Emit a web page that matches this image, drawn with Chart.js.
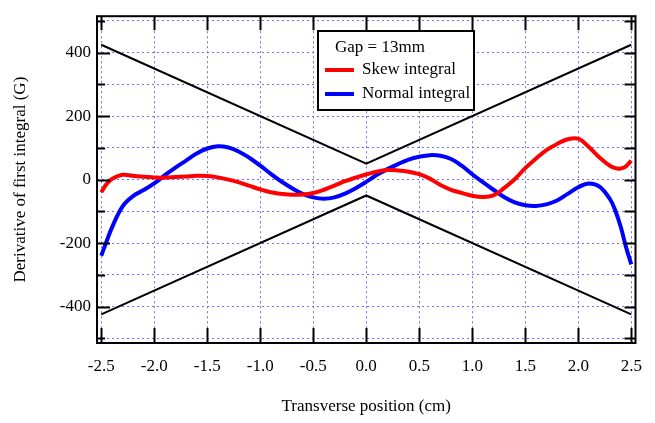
<!DOCTYPE html>
<html>
<head>
<meta charset="utf-8">
<script src="https://cdn.jsdelivr.net/npm/chart.js@4.4.1/dist/chart.umd.min.js"></script>
<style>
  html, body { margin: 0; padding: 0; background: #fff; }
  #wrap { width: 655px; height: 423px; }
</style>
</head>
<body>
<div id="wrap"><canvas id="chart"></canvas></div>
<script>
// transverse positions (cm)
const positions = [-2.5, -2.45, -2.4, -2.3, -2.2, -2.1, -2.0, -1.9, -1.8, -1.7, -1.6, -1.5, -1.4, -1.3, -1.2, -1.1,
  -1.0, -0.9, -0.8, -0.7, -0.6, -0.5, -0.4, -0.3, -0.2, -0.1, 0.0, 0.1, 0.2, 0.3, 0.4, 0.5, 0.6, 0.7, 0.8, 0.9,
  1.0, 1.1, 1.2, 1.3, 1.4, 1.5, 1.6, 1.7, 1.8, 1.9, 2.0, 2.1, 2.2, 2.3, 2.35, 2.4, 2.45, 2.5];

// skew integral (G)
const skewValues = [-40, -14, 2, 15, 12, 9, 7, 6, 8, 10, 12, 11, 7, 0, -9, -20,
  -31, -40, -45, -48, -47, -42, -32, -19, -5, 6, 16, 25, 30, 29, 25, 17, 3, -17, -32, -42,
  -51, -55, -50, -27, 1, 36, 66, 93, 112, 127, 129, 103, 70, 43, 36, 35, 42, 60];

// normal integral (G)
const normalValues = [-240, -195, -152, -85, -52, -33, -12, 14, 38, 60, 82, 98, 105, 101, 88, 68,
  44, 18, -6, -27, -45, -56, -60, -56, -44, -27, -7, 15, 33, 49, 63, 72, 77, 75, 65, 44,
  17, -8, -32, -55, -72, -81, -83, -78, -66, -45, -24, -12, -22, -62, -98, -148, -212, -267];

// tolerance envelope
const envelopeX = [-2.5, 0.0, 2.5];
const upperEnvelope = [425, 50, 425];
const lowerEnvelope = [-425, -50, -425];

const legendTitle = 'Gap = 13mm';
const serif = 'Liberation Serif, Times New Roman, serif';
const gridBlue = 'rgba(95,95,255,0.9)';

const toPoints = (xs, ys) => xs.map((x, i) => ({ x: x, y: ys[i] }));

// frame + inward tick marks
const framePlugin = {
  id: 'frame',
  afterDatasetsDraw(chart) {
    const { ctx, chartArea: a, scales } = chart;
    ctx.save();
    ctx.strokeStyle = '#000';
    ctx.lineWidth = 2;
    ctx.beginPath();
    scales.y.ticks.forEach(t => {
      const py = Math.round(scales.y.getPixelForValue(t.value)) + 0.5;
      const major = Math.round(t.value) % 200 === 0 && Math.abs(t.value) <= 400;
      ctx.moveTo(a.left, py);
      ctx.lineTo(a.left + (major ? 13 : 8), py);
      ctx.moveTo(a.right, py);
      ctx.lineTo(a.right - 11, py);
    });
    scales.x.ticks.forEach(t => {
      const px = Math.round(scales.x.getPixelForValue(t.value)) + 0.5;
      ctx.moveTo(px, a.bottom);
      ctx.lineTo(px, a.bottom - 15);
      ctx.moveTo(px, a.top);
      ctx.lineTo(px, a.top + 14);
    });
    ctx.stroke();
    ctx.strokeRect(a.left, a.top, a.right - a.left, a.bottom - a.top);
    ctx.restore();
  }
};

// boxed legend inside the plot
const boxLegend = {
  id: 'boxLegend',
  afterDraw(chart) {
    const ctx = chart.ctx;
    const sets = chart.data.datasets.slice(0, 2);
    ctx.save();
    ctx.fillStyle = '#fff';
    ctx.fillRect(318, 31, 156, 79);
    ctx.strokeStyle = '#000';
    ctx.lineWidth = 2;
    ctx.strokeRect(318, 31, 156, 79);
    ctx.font = '17px ' + serif;
    ctx.textBaseline = 'middle';
    ctx.textAlign = 'left';
    ctx.fillStyle = '#000';
    ctx.fillText(legendTitle, 335, 48);
    sets.forEach((ds, i) => {
      const y = 70 + i * 24;
      ctx.strokeStyle = ds.borderColor;
      ctx.lineWidth = 4;
      ctx.beginPath();
      ctx.moveTo(325, y);
      ctx.lineTo(354, y);
      ctx.stroke();
      ctx.fillStyle = '#000';
      ctx.fillText(ds.label, 362, y);
    });
    ctx.restore();
  }
};

new Chart(document.getElementById('chart'), {
  type: 'line',
  data: {
    datasets: [
      {
        label: 'Skew integral',
        data: toPoints(positions, skewValues),
        borderColor: '#ff0000',
        borderWidth: 4,
        pointRadius: 0,
        tension: 0.4,
      },
      {
        label: 'Normal integral',
        data: toPoints(positions, normalValues),
        borderColor: '#0000ff',
        borderWidth: 4,
        pointRadius: 0,
        tension: 0.4,
      },
      {
        label: 'upper',
        data: toPoints(envelopeX, upperEnvelope),
        borderColor: '#000',
        borderWidth: 2,
        pointRadius: 0,
        tension: 0,
      },
      {
        label: 'lower',
        data: toPoints(envelopeX, lowerEnvelope),
        borderColor: '#000',
        borderWidth: 2,
        pointRadius: 0,
        tension: 0,
      },
    ],
  },
  options: {
    responsive: true,
    maintainAspectRatio: false,
    animation: false,
    layout: { padding: { top: 6, right: 15, left: 0, bottom: 0 } },
    plugins: {
      legend: { display: false },
      tooltip: { enabled: false },
    },
    scales: {
      x: {
        type: 'linear',
        min: -2.54,
        max: 2.54,
        afterFit: s => { s.height = 80; },
        grid: { color: gridBlue, lineWidth: 1, drawTicks: false, borderDash: [2, 3] },
        border: { display: false, dash: [2, 3] },
        ticks: {
          stepSize: 0.5,
          includeBounds: false,
          maxRotation: 0,
          autoSkip: false,
          padding: 13,
          color: '#000',
          font: { family: serif, size: 17 },
          callback: v => v.toFixed(1),
        },
        title: {
          display: true,
          text: 'Transverse position (cm)',
          color: '#000',
          font: { family: serif, size: 17 },
          padding: { top: 0, bottom: 6 },
        },
      },
      y: {
        min: -515,
        max: 515,
        afterFit: s => { s.width = 97; },
        grid: { color: gridBlue, lineWidth: 1, drawTicks: false, borderDash: [2, 3] },
        border: { display: false, dash: [2, 3] },
        ticks: {
          stepSize: 100,
          includeBounds: false,
          autoSkip: false,
          padding: 6,
          color: '#000',
          font: { family: serif, size: 17 },
          callback: v => (Math.round(v) % 200 === 0 && Math.abs(v) <= 400 ? String(Math.round(v)) : ''),
        },
        title: {
          display: true,
          text: 'Derivative of first integral (G)',
          color: '#000',
          font: { family: serif, size: 17 },
          padding: { top: 10, bottom: 0 },
        },
      },
    },
  },
  plugins: [framePlugin, boxLegend],
});
</script>
</body>
</html>
